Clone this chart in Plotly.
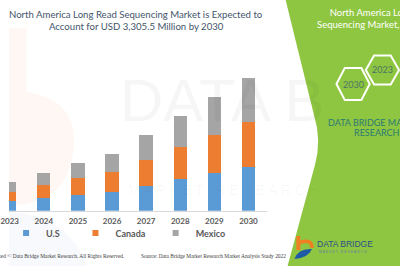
import plotly.graph_objects as go

# ---------------- data ----------------
years = ["2023", "2024", "2025", "2026", "2027", "2028", "2029", "2030"]
us_values = [232, 313, 395, 467, 624, 795, 947, 1095]
canada_values = [238, 316, 408, 485, 639, 783, 942, 1110]
mexico_values = [238, 318, 373, 465, 616, 778, 939, 1100.5]
series_names = ["U.S", "Canada", "Mexico"]
series_colors = ["#5b9bd5", "#ed7d31", "#a5a5a5"]
title_lines = ["North America Long Read Sequencing Market is Expected to",
               "Account for USD 3,305.5 Million by 2030"]
panel_title = "North America Long Read<br>Sequencing Market, By Country"
hex_labels = ["2030", "2023"]
brand_lines = ["DATA BRIDGE MARKET", "RESEARCH"]
footer_left = "Copyrighted \u00a9 Data Bridge Market Research. All Rights Reserved."
footer_right = "Source: Data Bridge Market Research Market Analysis Study 2022"

W, H = 400, 266
def px(x):
    return x / W
def py(y):
    return 1 - y / H

fig = go.Figure()
for vals, name, col in zip([us_values, canada_values, mexico_values], series_names, series_colors):
    fig.add_trace(go.Bar(x=years, y=vals, name=name, marker=dict(color=col, line=dict(width=0)),
                         width=0.39, showlegend=False))

legend_ids = ["legend", "legend2", "legend3"]
for name, col, lid in zip(series_names, series_colors, legend_ids):
    fig.add_trace(go.Scatter(x=[None], y=[None], mode="markers", name=name, legend=lid,
                             marker=dict(symbol="square", size=6, color=col), showlegend=True))

legend_marker_px = [33, 104, 186]
leg_common = dict(orientation="h", yanchor="middle", xanchor="left", bgcolor="rgba(0,0,0,0)",
                  borderwidth=0, itemwidth=30,
                  font=dict(family="Lato", size=9, color="#595959", weight="bold"))
legends = {}
for lid, mx in zip(legend_ids, legend_marker_px):
    legends[lid] = dict(leg_common, x=px(mx - 36), y=py(233))

shapes = []
# faint watermark shapes on the left
shapes.append(dict(type="path", xref="paper", yref="paper", layer="below",
                   path=f"M {px(0)},{py(28)} L {px(18)},{py(28)} L {px(18)},{py(92)} "
                        f"Q {px(72)},{py(100)} {px(66)},{py(150)} Q {px(60)},{py(205)} {px(0)},{py(205)} Z",
                   fillcolor="rgba(240,120,60,0.06)", line=dict(width=0)))
shapes.append(dict(type="path", xref="paper", yref="paper", layer="below",
                   path=f"M {px(0)},{py(212)} Q {px(60)},{py(215)} {px(80)},{py(266)} L {px(0)},{py(266)} Z",
                   fillcolor="rgba(60,100,170,0.04)", line=dict(width=0)))
# green panel
shapes.append(dict(type="path", xref="paper", yref="paper", layer="above",
                   path=f"M {px(283)},{py(0)} L {px(312)},{py(115)} Q {px(320)},{py(140)} {px(313)},{py(165)} "
                        f"L {px(285)},{py(266)} L {px(400)},{py(266)} L {px(400)},{py(0)} Z",
                   fillcolor="#8fc641", line=dict(width=0)))
# hexagons
def hexagon(cx, cy, hw, hh):
    q = hw / 2
    pts = [(cx - hw, cy), (cx - q, cy - hh), (cx + q, cy - hh), (cx + hw, cy),
           (cx + q, cy + hh), (cx - q, cy + hh)]
    return "M " + " L ".join(f"{px(a)},{py(b)}" for a, b in pts) + " Z"
hex_centers = [(352, 84, 17, 16), (382, 70, 17, 14.5)]
for cx, cy, hw, hh in hex_centers:
    shapes.append(dict(type="path", xref="paper", yref="paper", path=hexagon(cx, cy, hw, hh),
                       line=dict(color="white", width=2), fillcolor="rgba(0,0,0,0)"))
# logo
shapes.append(dict(type="path", xref="paper", yref="paper",
                   path=f"M {px(296)},{py(236)} L {px(296)},{py(250)}",
                   line=dict(color="#f07f22", width=4)))
shapes.append(dict(type="path", xref="paper", yref="paper",
                   path=f"M {px(296)},{py(243)} Q {px(310)},{py(238)} {px(310)},{py(248)}",
                   line=dict(color="#f07f22", width=3.5)))
shapes.append(dict(type="path", xref="paper", yref="paper",
                   path=f"M {px(292)},{py(259)} Q {px(296)},{py(248)} {px(310)},{py(249)} "
                        f"Q {px(306)},{py(258)} {px(292)},{py(259)} Z",
                   fillcolor="#1f5aa6", line=dict(width=0)))

annotations = []
# watermark text (faint)
annotations.append(dict(text="DATA B", x=px(112), y=py(100), xref="paper", yref="paper",
                        xanchor="left", yanchor="middle", showarrow=False,
                        font=dict(family="Liberation Sans", size=60,
                                  color="rgba(0,0,0,0.035)")))
annotations.append(dict(text="M A R K E T   R E S E A R C H", x=px(120), y=py(190), xref="paper",
                        yref="paper", xanchor="left", yanchor="middle", showarrow=False,
                        font=dict(family="Liberation Sans", size=14,
                                  color="rgba(0,0,0,0.035)")))
# title
for i, line in enumerate(title_lines):
    annotations.append(dict(text=line, x=px(130), y=py(15 + 11 * i), xref="paper", yref="paper",
                            xanchor="center", yanchor="middle", showarrow=False,
                            font=dict(family="Lato", size=9.6, color="#44546a")))
# footer
annotations.append(dict(text=footer_left, x=px(120), y=py(256), xref="paper", yref="paper",
                        xanchor="right", yanchor="middle", showarrow=False,
                        font=dict(family="Liberation Serif", size=5.4, color="#404040")))
annotations.append(dict(text=footer_right, x=px(133), y=py(256), xref="paper", yref="paper",
                        xanchor="left", yanchor="middle", showarrow=False,
                        font=dict(family="Liberation Serif", size=5.4, color="#404040")))
# panel text
annotations.append(dict(text=panel_title, x=px(383), y=py(18), xref="paper", yref="paper",
                        xanchor="center", yanchor="middle", showarrow=False, align="center",
                        font=dict(family="Lato", size=9.5, color="white")))
for (cx, cy, hw, hh), lab in zip(hex_centers, hex_labels):
    annotations.append(dict(text=lab, x=px(cx), y=py(cy), xref="paper", yref="paper",
                            xanchor="center", yanchor="middle", showarrow=False,
                            font=dict(family="Lato", size=9, color="#4a7466")))
for i, line in enumerate(brand_lines):
    annotations.append(dict(text=line, x=px(376), y=py(122 + 10 * i), xref="paper", yref="paper",
                            xanchor="center", yanchor="middle", showarrow=False,
                            font=dict(family="Lato", size=9, color="#2b7a73")))
annotations.append(dict(text="DATA BRIDGE", x=px(313), y=py(244), xref="paper", yref="paper",
                        xanchor="left", yanchor="middle", showarrow=False,
                        font=dict(family="Liberation Sans Narrow, Liberation Sans", size=8.5,
                                  color="#2d4e8a")))
annotations.append(dict(text="M A R K E T   R E S E A R C H", x=px(315), y=py(251.5), xref="paper",
                        yref="paper", xanchor="left", yanchor="middle", showarrow=False,
                        font=dict(family="Liberation Sans", size=3.5, color="#6a7fa0")))

scale = 3305.5 / 133.1
axis_bottom_px = 210.8
axis_top_px = 30

fig.update_layout(
    width=W, height=H, autosize=False,
    margin=dict(l=0, r=0, t=0, b=0, pad=0),
    paper_bgcolor="white", plot_bgcolor="rgba(0,0,0,0)",
    barmode="stack",
    xaxis=dict(domain=[0, px(264)], type="category", range=[-0.02, 7.545],
               showline=True, linecolor="#d9d9d9", linewidth=1, ticks="", showgrid=False,
               zeroline=False, ticklabelstandoff=3,
               tickfont=dict(family="Lato", size=8, color="#595959", weight="bold")),
    yaxis=dict(domain=[py(axis_bottom_px), py(axis_top_px)],
               range=[0, (axis_bottom_px - axis_top_px) * scale],
               visible=False, showgrid=False, zeroline=False),
    shapes=shapes, annotations=annotations,
    **legends,
)

fig.write_html("out.html")
